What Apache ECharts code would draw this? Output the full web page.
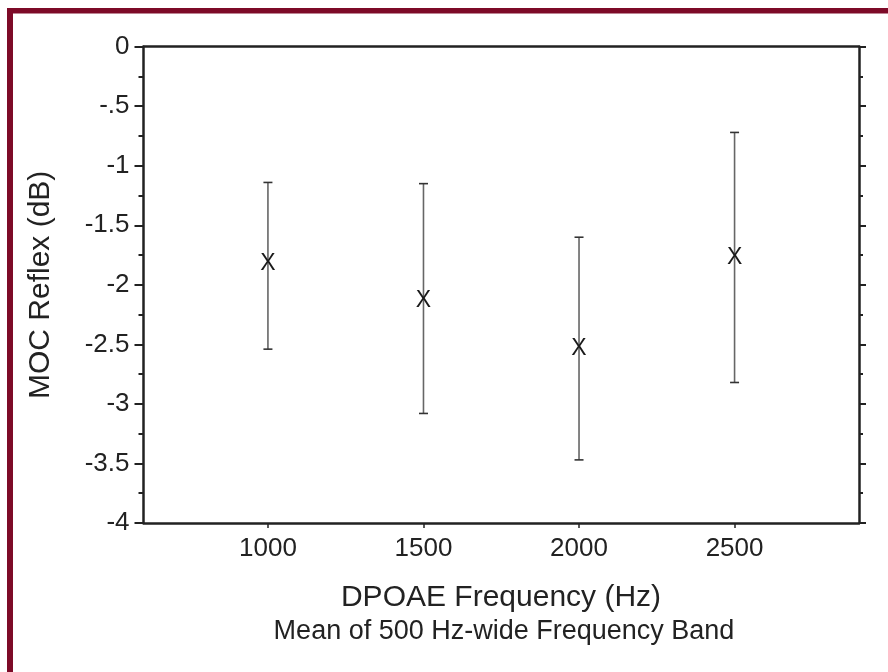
<!DOCTYPE html>
<html><head><meta charset="utf-8">
<script src="https://cdn.jsdelivr.net/npm/echarts@6/dist/echarts.min.js"></script>
<style>html,body{margin:0;padding:0;background:#fff}#c{width:888px;height:672px}</style>
</head><body><div id="c"></div>
<script>
const frequencies = [1000, 1500, 2000, 2500];
const meanValues = [-1.82, -2.13, -2.54, -1.77];
const upperValues = [-1.14, -1.15, -1.60, -0.72];
const lowerValues = [-2.54, -3.08, -3.47, -2.82];
const xTickValues = [1000, 1500, 2000, 2500];

const errData = frequencies.map((f, i) => [f, meanValues[i], upperValues[i], lowerValues[i]]);
const FONT = '"Liberation Sans", Arial, sans-serif';

const chart = echarts.init(document.getElementById('c'));
chart.setOption({
  animation: false,
  backgroundColor: '#fff',
  grid: { left: 143.5, right: 29, top: 46.7, bottom: 149, containLabel: false },
  graphic: [
    { type: 'rect', shape: { x: 7, y: 8, width: 881, height: 5.5 }, style: { fill: '#7d0a28' } },
    { type: 'rect', shape: { x: 7, y: 8, width: 6, height: 664 }, style: { fill: '#7d0a28' } },
    { type: 'text', x: 501, y: 598, style: { text: 'DPOAE Frequency (Hz)', font: '30px ' + FONT, fill: '#222', textAlign: 'center', textVerticalAlign: 'middle' } },
    { type: 'text', x: 504, y: 632, style: { text: 'Mean of 500 Hz-wide Frequency Band', font: '27px ' + FONT, fill: '#222', textAlign: 'center', textVerticalAlign: 'middle' } }
  ],
  xAxis: [
    {
      type: 'value', position: 'bottom', min: 600, max: 2900,
      axisLine: { show: true, onZero: false, lineStyle: { color: '#222', width: 2.5 } },
      axisTick: { show: true, inside: false, length: 5, customValues: xTickValues, lineStyle: { color: '#222', width: 1.5 } },
      axisLabel: { show: true, customValues: xTickValues, margin: 13, fontSize: 26, fontFamily: FONT, color: '#222', formatter: v => String(v) },
      splitLine: { show: false }
    },
    {
      type: 'value', position: 'top', min: 600, max: 2900,
      axisLine: { show: true, onZero: false, lineStyle: { color: '#222', width: 2.5 } },
      axisTick: { show: false }, axisLabel: { show: false }, splitLine: { show: false }
    }
  ],
  yAxis: [
    {
      type: 'value', position: 'left', min: -4, max: 0, interval: 0.5,
      name: 'MOC Reflex (dB)', nameLocation: 'middle', nameGap: 88, nameRotate: 90,
      nameTextStyle: { fontSize: 30, fontFamily: FONT, color: '#222' },
      axisLine: { show: true, onZero: false, lineStyle: { color: '#222', width: 2.5 } },
      axisTick: { show: true, inside: false, length: 9, lineStyle: { color: '#222', width: 2 } },
      minorTick: { show: true, splitNumber: 2, length: 5, lineStyle: { color: '#222', width: 2 } },
      axisLabel: {
        margin: 14, fontSize: 26, fontFamily: FONT, color: '#222',
        formatter: v => { if (v === 0) return '0'; let s = String(v); return s.replace(/^-0\./, '-.'); }
      },
      splitLine: { show: false }
    },
    {
      type: 'value', position: 'right', min: -4, max: 0, interval: 0.5,
      axisLine: { show: true, onZero: false, lineStyle: { color: '#222', width: 2.5 } },
      axisTick: { show: true, inside: false, length: 7, lineStyle: { color: '#222', width: 2 } },
      minorTick: { show: true, splitNumber: 2, length: 4, lineStyle: { color: '#222', width: 2 } },
      axisLabel: { show: false }, splitLine: { show: false }
    }
  ],
  series: [{
    type: 'custom',
    xAxisIndex: 0, yAxisIndex: 0,
    data: errData,
    renderItem: function (params, api) {
      const x = api.value(0);
      const pm = api.coord([x, api.value(1)]);
      const pu = api.coord([x, api.value(2)]);
      const pl = api.coord([x, api.value(3)]);
      const cw = 4.5;
      return {
        type: 'group',
        children: [
          { type: 'line', shape: { x1: pu[0], y1: pu[1], x2: pl[0], y2: pl[1] }, style: { stroke: '#666', lineWidth: 1.6 } },
          { type: 'line', shape: { x1: pu[0] - cw, y1: pu[1], x2: pu[0] + cw, y2: pu[1] }, style: { stroke: '#333', lineWidth: 1.6 } },
          { type: 'line', shape: { x1: pl[0] - cw, y1: pl[1], x2: pl[0] + cw, y2: pl[1] }, style: { stroke: '#333', lineWidth: 1.6 } },
          { type: 'text', x: pm[0], y: pm[1], style: { text: 'X', font: '23px ' + FONT, fill: '#1a1a1a', textAlign: 'center', textVerticalAlign: 'middle' } }
        ]
      };
    }
  }]
});
</script></body></html>
